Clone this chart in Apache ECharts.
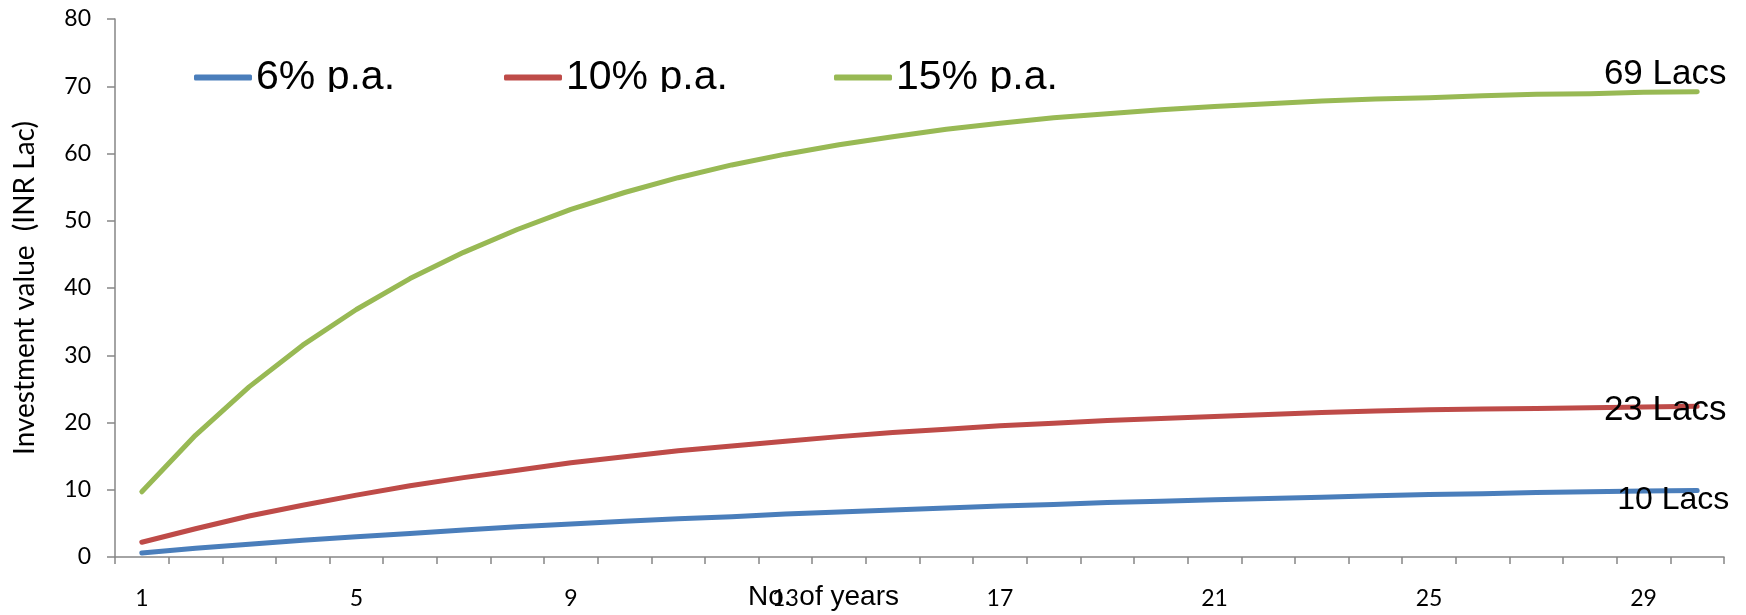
<!DOCTYPE html>
<html>
<head>
<meta charset="utf-8">
<script src="https://cdn.jsdelivr.net/npm/echarts@6/dist/echarts.min.js"></script>
<style>html,body{margin:0;padding:0;background:#fff;}#c{width:1746px;height:615px;}</style>
</head>
<body>
<div id="c"></div>
<script>
const years = ['1','2','3','4','5','6','7','8','9','10','11','12','13','14','15','16','17','18','19','20','21','22','23','24','25','26','27','28','29','30'];
const seriesNames = ['6% p.a.', '10% p.a.', '15% p.a.'];
const s6 = [0.6,1.3,1.9,2.5,3.0,3.5,4.0,4.5,4.9,5.3,5.7,6.0,6.4,6.7,7.0,7.3,7.6,7.8,8.1,8.3,8.5,8.7,8.9,9.1,9.3,9.4,9.6,9.7,9.8,9.9];
const s10 = [2.2,4.2,6.1,7.7,9.2,10.6,11.8,12.9,14.0,14.9,15.8,16.5,17.2,17.9,18.5,19.0,19.5,19.9,20.3,20.6,20.9,21.2,21.5,21.7,21.9,22.0,22.1,22.2,22.3,22.4];
const s15 = [9.7,18.1,25.3,31.5,36.8,41.4,45.3,48.7,51.7,54.2,56.4,58.3,59.9,61.3,62.5,63.6,64.5,65.3,65.9,66.5,67.0,67.4,67.8,68.1,68.3,68.6,68.8,68.9,69.1,69.2];
const endLabels = ['10 Lacs', '23 Lacs', '69 Lacs'];
const colors = ['#4a7ebb', '#be4b48', '#98b954'];
const yAxisName = 'Investment value  (INR Lac)';
const xAxisName = 'No. of years';

const chart = echarts.init(document.getElementById('c'));
const allData = [s6, s10, s15];
const labelOffsets = [[-24, 10], [-32, 4], [-32, -17]];
const labelSizes = [32, 35, 35];
const legendLefts = [189, 499, 829];

const series = allData.map((d, i) => ({
  name: seriesNames[i],
  type: 'line',
  data: d,
  symbol: 'none',
  lineStyle: { color: colors[i], width: 5, cap: 'round', join: 'round' },
  itemStyle: { color: colors[i] },
  endLabel: {
    show: true, formatter: endLabels[i], distance: 0, offset: labelOffsets[i],
    align: 'center', verticalAlign: 'middle', color: '#000',
    fontFamily: '"Liberation Sans", Arial, sans-serif', fontSize: labelSizes[i]
  },
  z: 2
}));

const axisFont = 'Lato, "Open Sans", sans-serif';
chart.setOption({
  animation: false,
  color: colors,
  grid: { left: 115, right: 22, top: 19, bottom: 58, containLabel: false },
  legend: seriesNames.map((n, i) => ({
    data: [n], left: legendLefts[i], top: 52,
    icon: 'roundRect', itemWidth: 58, itemHeight: 6, itemGap: 0,
    textStyle: { fontFamily: 'Liberation Sans, Arial, sans-serif', fontSize: 41, color: '#000', padding: [0,0,0,-1] },
    selectedMode: false
  })),
  xAxis: {
    type: 'category', data: years, boundaryGap: true,
    axisLine: { lineStyle: { color: '#868686', width: 1.5 } },
    axisTick: { show: true, interval: 0, length: 7, lineStyle: { color: '#868686', width: 1.5 } },
    axisLabel: { interval: 3, margin: 30, color: '#000', fontFamily: axisFont, fontSize: 23 },
    splitLine: { show: false }
  },
  yAxis: {
    type: 'value', min: 0, max: 80, interval: 10,
    name: yAxisName, nameLocation: 'middle', nameGap: 76, nameRotate: 90,
    nameTextStyle: { color: '#000', fontFamily: axisFont, fontSize: 28 },
    axisLine: { show: true, lineStyle: { color: '#868686', width: 1.5 } },
    axisTick: { show: true, length: 8, lineStyle: { color: '#868686', width: 1.5 } },
    axisLabel: { margin: 24, color: '#000', fontFamily: axisFont, fontSize: 23 },
    splitLine: { show: false }
  },
  graphic: [
    { type: 'text', left: 748, top: 583, z: 10,
      style: { text: xAxisName, fill: '#000', font: '28px "Liberation Sans", sans-serif' } },
    { type: 'rect', shape: { x: 250, y: 92, width: 830, height: 14 }, style: { fill: '#fff' }, z: 100 }
  ],
  series: series
});
</script>
</body>
</html>
